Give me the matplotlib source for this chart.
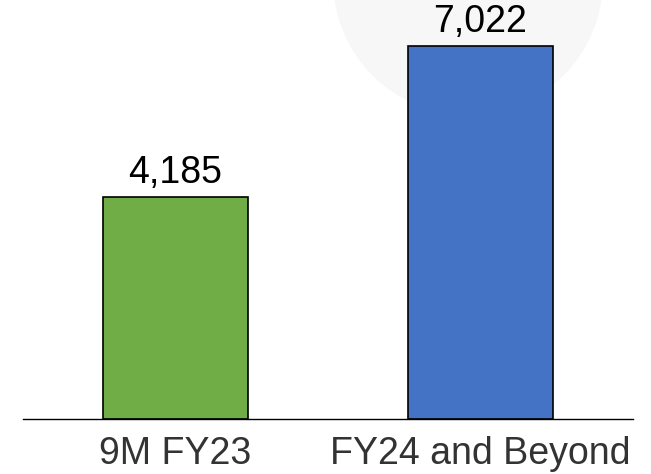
import matplotlib.pyplot as plt
from matplotlib.patches import Ellipse
from matplotlib.transforms import IdentityTransform

plt.rcParams['font.family'] = ['Liberation Sans', 'DejaVu Sans']

categories = ['9M FY23', 'FY24 and Beyond']
values = [4185, 7022]
bar_colors = ['#70AD47', '#4472C4']

fig = plt.figure(figsize=(6.51, 4.74), dpi=100)

# faint round shape in the background, upper right
bg = Ellipse((468, 474 + 20), 270, 270, transform=IdentityTransform(),
             facecolor='#f7f7f7', edgecolor='none', zorder=-5)
fig.patches.append(bg)

ax = fig.add_axes([23 / 651, 55 / 474, 610 / 651, 419 / 474])
ax.patch.set_visible(False)
ax.set_zorder(1)

x = range(len(categories))
bars = ax.bar(x, values, width=0.475, color=bar_colors,
              edgecolor='black', linewidth=1.2, zorder=2)

for b, v in zip(bars, values):
    ax.annotate(f'{v:,}', (b.get_x() + b.get_width() / 2, v),
                xytext=(0, 14), textcoords='offset pixels',
                ha='center', va='baseline', fontsize=27, color='black',
                annotation_clip=False)

ax.set_xlim(-0.5, 1.5)
ax.set_ylim(0, 7890)
ax.set_xticks(list(x))
ax.set_xticklabels(categories, fontsize=27, color='#333333')
ax.tick_params(axis='x', length=0, pad=12)
ax.set_yticks([])
for side in ['top', 'right', 'left']:
    ax.spines[side].set_visible(False)
ax.spines['bottom'].set_linewidth(1.0)
ax.spines['bottom'].set_color('black')

fig.savefig('out.png', dpi=100)
